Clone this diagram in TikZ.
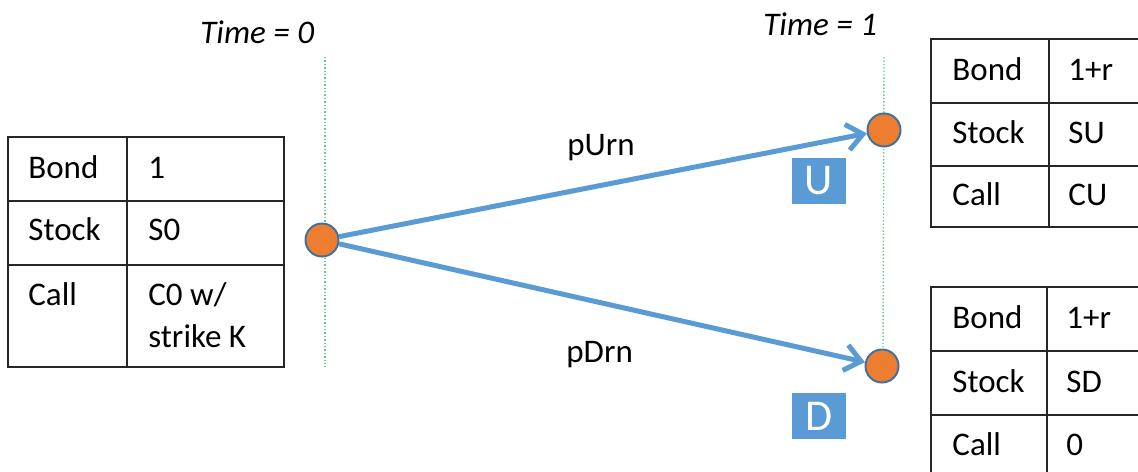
\documentclass[tikz,border=0pt]{standalone}
\usepackage{fontspec}
\setmainfont{Carlito}
\usetikzlibrary{arrows.meta}
\definecolor{branchblue}{HTML}{5B9BD5}
\definecolor{stateorange}{HTML}{ED7D31}
\definecolor{stateedge}{HTML}{41719C}
\definecolor{timegreen}{HTML}{5ECC8A}
\begin{document}
\begin{tikzpicture}[x=0.5pt,y=-0.5pt,line cap=butt,line join=miter]
		\tikzset{cell/.style={anchor=base west,inner sep=0pt,font=\fontsize{16.5}{20}\selectfont},
			timelbl/.style={cell,font=\fontsize{16.5}{20}\selectfont\itshape},
			grid/.style={line width=1.3pt,black!85},
			timeline/.style={timegreen,densely dotted,line width=0.7pt},
			state/.style={circle,fill=stateorange,draw=stateedge,line width=1pt,minimum size=16.5pt,inner sep=0pt},
			branch/.style={branchblue,line width=2.5pt,-{Straight Barb[length=8pt,width=13pt]}},
			tag/.style={fill=branchblue,text=white,minimum width=27pt,minimum height=23pt,inner sep=0pt,font=\fontsize{22}{24}\selectfont}
		}
		\useasboundingbox (0,0) rectangle (1138,471);
		\clip (0,0) rectangle (1138,471);
		% time axes
		\node[timelbl] (time0) at (200,43) {Time = 0};
		\node[timelbl] (time1) at (763,35) {Time = 1};
		\coordinate (t0top) at (325,57); \coordinate (t0bot) at (325,367);
		\coordinate (t1top) at (884,57); \coordinate (t1bot) at (883,352);
		\draw[timeline] (t0top)--(t0bot);
		\draw[timeline] (t1top)--(t1bot);
		% tree
		\node[state] (s0) at (322,240) {};
		\node[state] (su) at (884,130) {};
		\node[state] (sd) at (882,366) {};
		\draw[branch] (s0)--(su);
		\draw[branch] (s0)--(sd);
		\node[cell] (pup) at (567,155) {pUrn};
		\node[cell] (pdown) at (566,362) {pDrn};
		\node[tag] (up) at (819,181) {U};
		\node[tag] (down) at (819,416) {D};
		% today
		\draw[grid] (8,137) rectangle (284,367);
		\draw[grid] (127,137)--(127,367) (8,201)--(284,201) (8,265)--(284,265);
		\node[cell] (b0) at (28,178) {Bond};   \node[cell] (b0v) at (148,178) {1};
		\node[cell] (s0l) at (28,240) {Stock}; \node[cell] (s0v) at (148,240) {S0};
		\node[cell] (c0) at (28,305) {Call};   \node[cell] (c0v) at (148,305) {C0 w/};
		\node[cell] (c0k) at (148,347) {strike K};
		% up state
		\draw[grid] (931,39) rectangle (1160,227);
		\draw[grid] (1049,39)--(1049,227) (931,103)--(1160,103) (931,166)--(1160,166);
		\node[cell] (bu) at (952,80) {Bond};   \node[cell] (buv) at (1068,80) {1+r};
		\node[cell] (su2) at (952,143) {Stock}; \node[cell] (suv) at (1068,143) {SU};
		\node[cell] (cu) at (952,205) {Call};   \node[cell] (cuv) at (1068,205) {CU};
		% down state
		\draw[grid] (931,287) rectangle (1160,500);
		\draw[grid] (1047,287)--(1047,500) (931,351)--(1160,351) (931,415)--(1160,415);
		\node[cell] (bd) at (952,328) {Bond};   \node[cell] (bdv) at (1066,328) {1+r};
		\node[cell] (sd2) at (952,392) {Stock}; \node[cell] (sdv) at (1066,392) {SD};
		\node[cell] (cd) at (952,455) {Call};   \node[cell] (cdv) at (1066,455) {0};
	\end{tikzpicture}
\end{document}
